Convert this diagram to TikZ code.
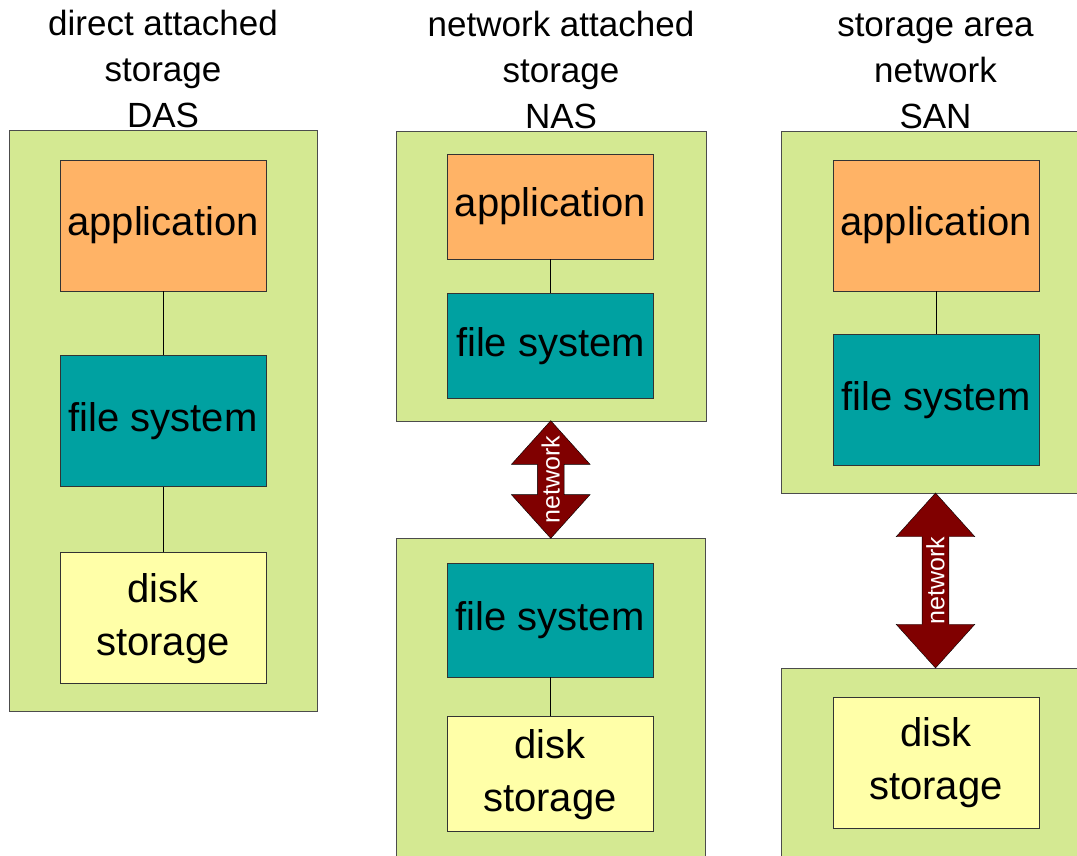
\documentclass[tikz,border=0pt]{standalone}
\usepackage{fontspec}
\setmainfont{Liberation Sans}
\usepackage{tikz}
\definecolor{hostgreen}{RGB}{212,233,146}
\definecolor{appfill}{RGB}{255,179,102}
\definecolor{fsfill}{RGB}{0,161,161}
\definecolor{diskfill}{RGB}{255,255,168}
\definecolor{netred}{RGB}{128,0,0}
\tikzset{
    host/.style={rectangle,draw=black!70,fill=hostgreen,line width=0.9pt,minimum width=309pt},
    layer/.style={rectangle,draw=black!80,text centered,line width=0.9pt,minimum width=206pt,font=\fontsize{40}{53}\selectfont},
    app/.style={layer,fill=appfill},
    fsys/.style={layer,fill=fsfill},
    disk/.style={layer,fill=diskfill,align=center},
    title/.style={align=center,inner sep=0pt,font=\fontsize{35}{46}\selectfont},
    net/.style={double arrow,draw=black,fill=netred,text=white,rotate=90,inner xsep=0pt,inner ysep=4pt,
        double arrow head extend=26pt,double arrow tip angle=84,font=\fontsize{25}{25}\selectfont},
}
\usetikzlibrary{shapes.arrows}
\usetikzlibrary{positioning,calc}

\begin{document}
\begin{tikzpicture}[x=1pt,y=-1pt]
\useasboundingbox (0,0) rectangle (1077,856);
\clip (0,0) rectangle (1077,856);
% DAS
\node[host,minimum width=308pt,minimum height=581pt](dasHost) at (163,420.5) {};
\node[title](dasTitle) [above=2pt of dasHost] {direct attached\\storage\\DAS};
\node[app,minimum height=131pt](appD) at (163,225.5) {application};
\node[fsys,minimum height=131pt](fsD) [below=64pt of appD] {file system} edge (appD);
\node[disk,minimum height=131pt](diskD) [below=65pt of fsD] {disk\\storage} edge (fsD);
% NAS
\node[host,minimum width=310pt,minimum height=290pt](nasTop) at (551,276) {};
\node[host,minimum height=362pt](nasBot) at (550.5,719) {};
\node[title](nasTitle) [above=2pt of nasTop,xshift=10pt] {network attached\\storage\\NAS};
\node[app,minimum height=105pt](appN) at (550.5,206.5) {application};
\node[fsys,minimum height=105pt](fsN) [below=34pt of appN] {file system} edge (appN);
\node[fsys,minimum height=114pt](fsB) at (550,620) {file system};
\node[disk,minimum height=115pt](diskB) [below=39pt of fsB] {disk\\storage} edge (fsB);
\node[net,minimum height=117pt](netN) at ($(nasTop.south)!0.5!(nasBot.north)$) {network};
% SAN
\node[host,minimum height=362pt](sanTop) at (935.5,312) {};
\node[host,minimum height=232pt](sanBot) at (935.5,784) {};
\node[title](sanTitle) [above=2pt of sanTop] {storage area\\network\\SAN};
\node[app,minimum height=131pt](appS) at (936,225.5) {application};
\node[fsys,minimum height=131pt](fsS) [below=43pt of appS] {file system} edge (appS);
\node[disk,minimum height=131pt](diskS) at (936,762.5) {disk\\storage};
\node[net,minimum height=175pt](netS) at ($(sanTop.south)!0.5!(sanBot.north)$) {network};
\end{tikzpicture}
\end{document}
